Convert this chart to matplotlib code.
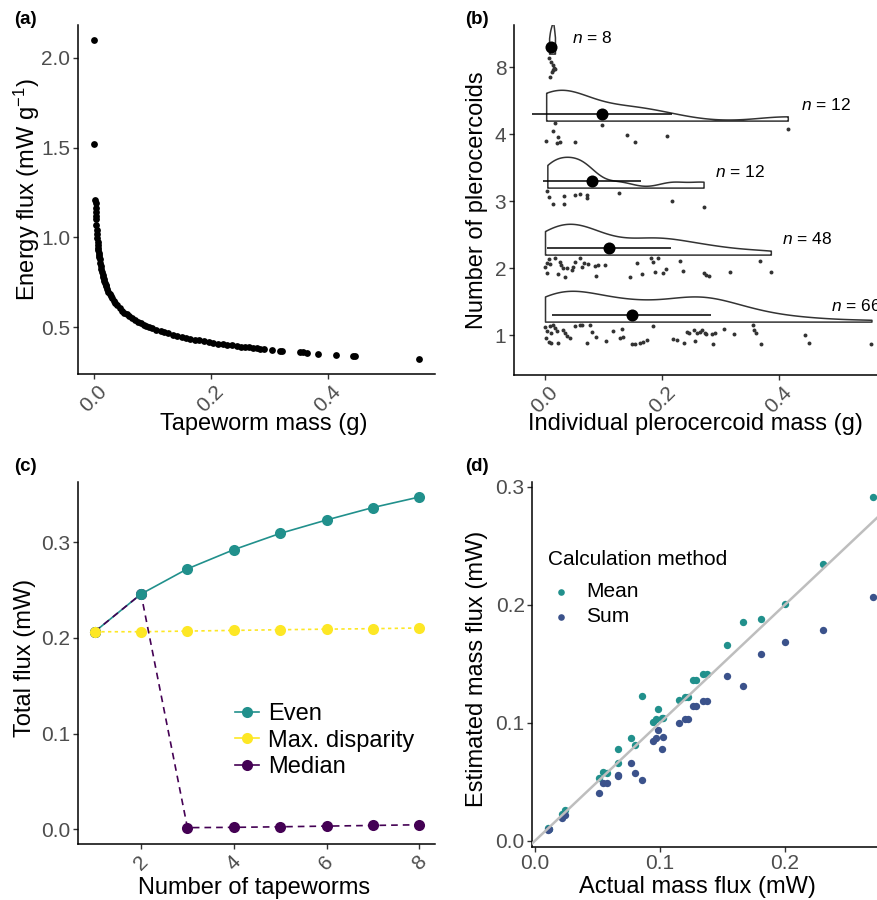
import numpy as np
import matplotlib
matplotlib.use("Agg")
import matplotlib.pyplot as plt
from matplotlib.lines import Line2D

plt.rcParams['font.family'] = ['Liberation Sans', 'DejaVu Sans']
plt.rcParams['mathtext.fontset'] = 'custom'
plt.rcParams['mathtext.rm'] = 'Liberation Sans'
plt.rcParams['mathtext.it'] = 'Liberation Sans:italic'

# ---------------- (a) energy flux vs tapeworm mass ----------------
mass_a = [0.0003, 0.0009, 0.0028, 0.0030, 0.0032, 0.0035, 0.0038, 0.0040, 0.0045, 0.0050,
          0.0055, 0.0060, 0.0065, 0.0070, 0.0075, 0.0080, 0.0085, 0.0090, 0.0095, 0.0100,
          0.0110, 0.0120, 0.0130, 0.0140, 0.0150, 0.0160, 0.0170, 0.0180, 0.0190, 0.0200,
          0.0210, 0.0230, 0.0250, 0.0270, 0.0290, 0.0310, 0.0340, 0.0370, 0.0400, 0.0440,
          0.0480, 0.0520, 0.0560, 0.0600, 0.0650, 0.0700, 0.0750, 0.0800, 0.0850, 0.0900,
          0.0950, 0.1000, 0.1070, 0.1150, 0.1200, 0.1270, 0.1350, 0.1430, 0.1500, 0.1580,
          0.1650, 0.1730, 0.1800, 0.1880, 0.1960, 0.2040, 0.2120, 0.2200, 0.2280, 0.2360,
          0.2440, 0.2520, 0.2580, 0.2660, 0.2720, 0.2780, 0.2840, 0.2900, 0.3050, 0.3180,
          0.3220, 0.3520, 0.3580, 0.3640, 0.3830, 0.4130, 0.4430, 0.4470, 0.5560]
flux_a = [2.100, 1.520, 1.210, 1.190, 1.166, 1.140, 1.117, 1.102, 1.070, 1.042,
          1.018, 0.996, 0.976, 0.958, 0.942, 0.927, 0.913, 0.900, 0.888, 0.877,
          0.856, 0.838, 0.821, 0.806, 0.792, 0.779, 0.768, 0.757, 0.747, 0.737,
          0.728, 0.712, 0.697, 0.684, 0.672, 0.661, 0.646, 0.632, 0.620, 0.605,
          0.592, 0.580, 0.570, 0.560, 0.549, 0.539, 0.530, 0.521, 0.513, 0.506,
          0.499, 0.493, 0.485, 0.476, 0.471, 0.464, 0.457, 0.451, 0.445, 0.440,
          0.435, 0.430, 0.426, 0.421, 0.417, 0.412, 0.408, 0.405, 0.401, 0.398,
          0.394, 0.391, 0.389, 0.386, 0.384, 0.382, 0.380, 0.378, 0.373, 0.369,
          0.368, 0.360, 0.358, 0.357, 0.352, 0.345, 0.339, 0.338, 0.321]

# ---------------- (b) raincloud of plerocercoid mass ----------------
b_labels = ['1', '2', '3', '4', '8']
b_n = [66, 48, 12, 12, 8]
# individual masses (x) and jittered category position (y)
g1_x = [0.000, 0.003, 0.002, 0.006, 0.011, 0.009, 0.014, 0.017, 0.011, 0.023, 0.020, 0.031,
        0.034, 0.037, 0.043, 0.051, 0.059, 0.063, 0.077, 0.080, 0.088, 0.071, 0.105, 0.117,
        0.131, 0.128, 0.134, 0.148, 0.154, 0.162, 0.168, 0.174, 0.185, 0.219, 0.225, 0.238,
        0.242, 0.247, 0.254, 0.256, 0.260, 0.265, 0.268, 0.274, 0.276, 0.285, 0.288, 0.291,
        0.306, 0.323, 0.355, 0.357, 0.361, 0.369, 0.444, 0.452, 0.558]
g1_y = [1.114, 1.065, 0.950, 0.900, 0.876, 1.134, 1.149, 1.100, 1.025, 0.876, 1.065, 1.075,
        1.025, 0.985, 0.950, 1.134, 1.149, 1.149, 1.149, 1.040, 0.975, 0.886, 0.910, 1.065,
        1.085, 0.950, 0.975, 0.861, 0.866, 0.886, 0.900, 0.925, 1.139, 0.940, 0.925, 0.886,
        1.050, 1.025, 1.075, 0.915, 1.035, 1.050, 1.075, 1.035, 1.010, 1.010, 0.866, 1.025,
        1.085, 1.010, 1.149, 1.075, 1.025, 0.861, 1.000, 0.876, 0.861]
g2_x = [0.000, 0.003, 0.006, 0.003, 0.009, 0.017, 0.023, 0.026, 0.028, 0.031, 0.034, 0.037,
        0.046, 0.048, 0.051, 0.060, 0.063, 0.066, 0.074, 0.085, 0.088, 0.091, 0.103, 0.145,
        0.157, 0.165, 0.182, 0.184, 0.194, 0.188, 0.201, 0.207, 0.231, 0.236, 0.271, 0.276,
        0.281, 0.317, 0.368, 0.386]
g2_y = [2.020, 2.070, 2.129, 1.920, 2.060, 2.144, 1.910, 2.095, 2.045, 1.995, 1.871, 1.995,
        1.970, 2.020, 2.095, 2.144, 2.020, 2.080, 2.060, 2.030, 1.881, 2.045, 2.045, 1.871,
        2.080, 1.905, 2.144, 2.095, 2.144, 1.945, 1.930, 1.985, 2.109, 1.960, 1.930, 1.896,
        1.881, 1.935, 2.109, 1.935]
g3_x = [0.004, 0.007, 0.014, 0.032, 0.033, 0.051, 0.059, 0.071, 0.072, 0.127, 0.217, 0.271]
g3_y = [3.149, 3.065, 2.950, 3.075, 2.950, 3.090, 3.104, 3.090, 3.040, 3.114, 3.000, 2.915]
g4_x = [0.017, 0.013, 0.002, 0.023, 0.020, 0.026, 0.051, 0.097, 0.140, 0.154, 0.208, 0.415]
g4_y = [4.159, 4.050, 3.891, 3.950, 3.866, 3.876, 3.876, 4.134, 3.985, 3.876, 3.965, 4.075]
g8_x = [0.007, 0.010, 0.013, 0.015, 0.014, 0.012, 0.009, 0.017]
g8_y = [5.139, 5.080, 5.030, 4.990, 4.955, 4.930, 4.856, 4.970]
b_means = [0.148, 0.109, 0.080, 0.097, 0.011]
b_sds = [0.136, 0.106, 0.084, 0.120, 0.004]
b_nlabel_x = [0.532, 0.448, 0.334, 0.481, 0.081]

# ---------------- (c) total flux vs number of tapeworms ----------------
n_worms = [1, 2, 3, 4, 5, 6, 7, 8]
flux_even = [0.2063, 0.2457, 0.272, 0.292, 0.309, 0.323, 0.336, 0.347]
flux_maxdisp = [0.2063, 0.2063, 0.207, 0.2077, 0.2084, 0.209, 0.2095, 0.2102]
flux_median = [0.2063, 0.2457, 0.0017, 0.0020, 0.0026, 0.0033, 0.0040, 0.0047]

# ---------------- (d) estimated vs actual mass flux ----------------
actual_flux = [0.0107, 0.0113, 0.0219, 0.0240, 0.0515, 0.0541, 0.0579, 0.0661, 0.0661,
               0.0768, 0.0800, 0.0859, 0.0947, 0.0968, 0.0987, 0.1019, 0.1027, 0.1149,
               0.1200, 0.1221, 0.1267, 0.1288, 0.1341, 0.1379, 0.1533, 0.1661, 0.1808,
               0.2000, 0.2301, 0.2701]
est_mean = [0.0110, 0.0100, 0.0223, 0.0260, 0.0528, 0.0585, 0.0576, 0.0777, 0.0655,
            0.0867, 0.0811, 0.1226, 0.1008, 0.1028, 0.1116, 0.1042, 0.1037, 0.1192,
            0.1220, 0.1220, 0.1362, 0.1362, 0.1410, 0.1410, 0.1658, 0.1850, 0.1876,
            0.2003, 0.2345, 0.2912]
est_sum = [0.0090, 0.0095, 0.0189, 0.0218, 0.0401, 0.0492, 0.0492, 0.0556, 0.0548,
           0.0661, 0.0576, 0.0514, 0.0847, 0.0867, 0.0938, 0.0774, 0.0881, 0.1000,
           0.1028, 0.1028, 0.1144, 0.1144, 0.1186, 0.1186, 0.1395, 0.1311, 0.1579,
           0.1681, 0.1782, 0.2062]

TEAL = '#21908C'
YELLOW = '#FDE725'
PURPLE = '#440154'
BLUE = '#3B528B'
TICK_GREY = '#4D4D4D'

W, H = 878, 900
fig = plt.figure(figsize=(W / 100, H / 100), dpi=100)


def px_axes(left, top, right, bottom):
    return fig.add_axes([left / W, 1 - bottom / H, (right - left) / W, (bottom - top) / H])


def ftext(x, y, s, **kw):
    fig.text(x / W, 1 - y / H, s, **kw)


def style(ax, rotate=False):
    for side in ['top', 'right']:
        ax.spines[side].set_visible(False)
    for side in ['left', 'bottom']:
        ax.spines[side].set_linewidth(1.1)
        ax.spines[side].set_color('black')
    ax.tick_params(length=3.5, width=1.0, color='#333333', labelsize=15,
                   labelcolor=TICK_GREY, pad=2)
    if rotate:
        ax.tick_params(axis='x', labelrotation=45)


def nrd0(kde):
    d = np.ravel(kde.dataset)
    sd = d.std(ddof=1)
    q75, q25 = np.percentile(d, [75, 25])
    return 0.9 * min(sd, (q75 - q25) / 1.34) / sd * len(d) ** -0.2


# ---- panel a
ax = px_axes(78, 25, 435, 374)
ax.scatter(mass_a, flux_a, s=24, color='black', linewidths=0)
ax.set_xlim(-0.027, 0.583)
ax.set_ylim(0.238, 2.184)
ax.set_xticks([0.0, 0.2, 0.4], ['0.0', '0.2', '0.4'])
ax.set_yticks([0.5, 1.0, 1.5, 2.0], ['0.5', '1.0', '1.5', '2.0'])
style(ax, rotate=True)
ftext(14, 19, '(a)', fontsize=13.5, fontweight='bold', va='center')
ftext(264, 424, 'Tapeworm mass (g)', fontsize=17, ha='center', va='center')
ftext(27, 190, r'Energy flux (mW g$^{-1}$)', fontsize=17, ha='center', va='center',
      rotation=90)

# ---- panel b (runs off the right edge, like the reference)
ax = px_axes(514, 25, 890, 375)
groups_x = [g1_x, g2_x, g3_x, g4_x, g8_x]
groups_y = [g1_y, g2_y, g3_y, g4_y, g8_y]
pos = np.arange(1, 6)
parts = ax.violinplot(groups_x, positions=pos + 0.2, orientation='horizontal', side='high',
                      widths=0.92, showextrema=False, points=300, bw_method=nrd0)
for body in parts['bodies']:
    body.set_facecolor('white')
    body.set_edgecolor('#333333')
    body.set_alpha(1)
    body.set_linewidth(1.1)
for gx, gy in zip(groups_x, groups_y):
    ax.scatter(gx, gy, s=8, color='#333333', linewidths=0, zorder=3)
for p, m, sd, nx, n in zip(pos, b_means, b_sds, b_nlabel_x, b_n):
    ax.hlines(p + 0.3, m - sd, m + sd, color='black', lw=1.1, zorder=4)
    ax.scatter([m], [p + 0.3], s=75, color='black', linewidths=0, zorder=5)
    ax.text(nx, p + 0.44, r'$n$ = %d' % n, fontsize=12.5, ha='center', va='center')
ax.set_xlim(-0.053, (890 - 545) / 585)
ax.set_ylim(0.403, 5.627)
ax.set_xticks([0.0, 0.2, 0.4], ['0.0', '0.2', '0.4'])
ax.set_yticks(pos, b_labels)
style(ax, rotate=True)
ftext(465, 19, '(b)', fontsize=13.5, fontweight='bold', va='center')
ftext(695, 424, 'Individual plerocercoid mass (g)', fontsize=17, ha='center', va='center')
ftext(477, 200, 'Number of plerocercoids', fontsize=17, ha='center', va='center',
      rotation=90)

# ---- panel c
ax = px_axes(78, 481.7, 435, 844.3)
ax.plot(n_worms, flux_even, color=TEAL, lw=1.2, zorder=2)
ax.plot(n_worms, flux_maxdisp, color=YELLOW, lw=1.2, dashes=(2, 2), zorder=2)
ax.plot(n_worms, flux_median, color=PURPLE, lw=1.2, dashes=(4, 3), zorder=2)
ax.plot(n_worms, flux_median, 'o', color=PURPLE, ms=8, mew=0, zorder=3.0)
ax.plot(n_worms, flux_even, 'o', color=TEAL, ms=8, mew=0, zorder=3.1)
ax.plot(n_worms, flux_maxdisp, 'o', color=YELLOW, ms=8, mew=0, zorder=3.2)
handles = [Line2D([], [], color=c, lw=1.2, marker='o', ms=8, mew=0)
           for c in [TEAL, YELLOW, PURPLE]]
ax.legend(handles, ['Even', 'Max. disparity', 'Median'], loc='upper left',
          bbox_to_anchor=(0.44, 0.39), frameon=False, fontsize=17, handlelength=1.0,
          handletextpad=0.4, labelspacing=0.2, borderpad=0, borderaxespad=0)
ax.set_xlim(0.64, 8.34)
ax.set_ylim(-0.0157, 0.363)
ax.set_xticks([2, 4, 6, 8], ['2', '4', '6', '8'])
ax.set_yticks([0.0, 0.1, 0.2, 0.3], ['0.0', '0.1', '0.2', '0.3'])
style(ax, rotate=True)
ftext(14, 467, '(c)', fontsize=13.5, fontweight='bold', va='center')
ftext(254, 888, 'Number of tapeworms', fontsize=17, ha='center', va='center')
ftext(25, 658, 'Total flux (mW)', fontsize=17, ha='center', va='center', rotation=90)

# ---- panel d
ax = px_axes(532.3, 481.7, 888.75, 846.7)
ax.scatter(actual_flux, est_mean, s=28, color=TEAL, linewidths=0, label='Mean', zorder=2)
ax.scatter(actual_flux, est_sum, s=28, color=BLUE, linewidths=0, label='Sum', zorder=2.1)
ax.axline((0, 0), slope=1, color='#BEBEBE', lw=1.8, zorder=3)
ax.legend(loc='upper left', bbox_to_anchor=(0.0513, 0.725), frameon=False, fontsize=15,
          markerscale=0.9, handlelength=1.0, handletextpad=0.69, labelspacing=0.3,
          borderpad=0, borderaxespad=0)
ftext(548.3, 559.3, 'Calculation method', fontsize=15, ha='left', va='center')
ax.set_xlim(-0.0022, 0.283)
ax.set_ylim(-0.0051, 0.3042)
ax.set_xticks([0.0, 0.1, 0.2], ['0.0', '0.1', '0.2'])
ax.set_yticks([0.0, 0.1, 0.2, 0.3], ['0.0', '0.1', '0.2', '0.3'])
style(ax)
ftext(465, 467, '(d)', fontsize=13.5, fontweight='bold', va='center')
ftext(697, 887, 'Actual mass flux (mW)', fontsize=17, ha='center', va='center')
ftext(477, 669, 'Estimated mass flux (mW)', fontsize=17, ha='center', va='center',
      rotation=90)

fig.savefig('out.png', dpi=100)
